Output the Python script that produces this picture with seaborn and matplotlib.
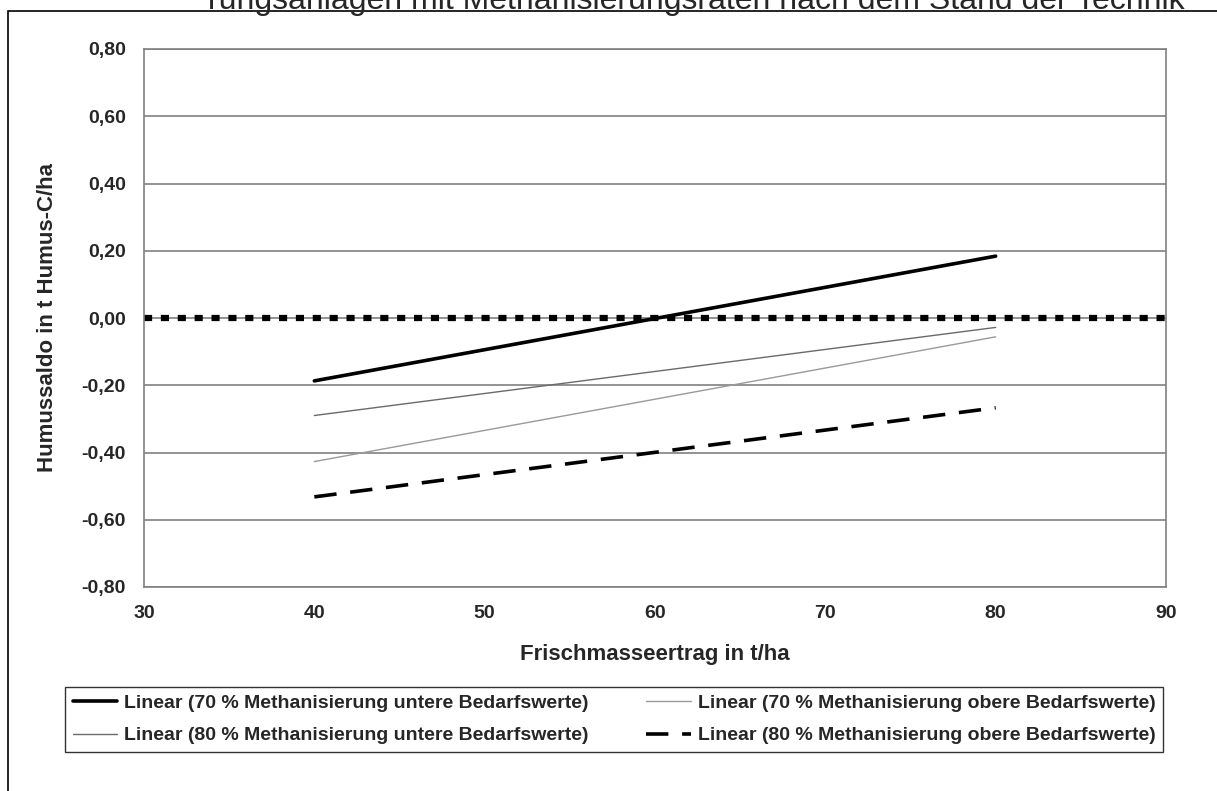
import matplotlib
matplotlib.use("Agg")
import matplotlib.pyplot as plt
import matplotlib.patches as patches
import pandas as pd
import seaborn as sns

# yields (t/ha) at the two ends of each trend line
ertrag = [40, 80]
m70_untere = [-0.187, 0.184]
m70_obere = [-0.427, -0.056]
m80_untere = [-0.290, -0.028]
m80_obere = [-0.532, -0.267]
null_x = [30, 90]
null_y = [0.0, 0.0]

labels = [
    "Linear (70 % Methanisierung untere Bedarfswerte)",
    "Linear (70 % Methanisierung obere Bedarfswerte)",
    "Linear (80 % Methanisierung untere Bedarfswerte)",
    "Linear (80 % Methanisierung obere Bedarfswerte)",
]
x_ticks = [30, 40, 50, 60, 70, 80, 90]
y_ticks = [-0.8, -0.6, -0.4, -0.2, 0.0, 0.2, 0.4, 0.6, 0.8]

sns.set_style("white")
plt.rcParams["font.family"] = ["Liberation Sans", "DejaVu Sans"]
plt.rcParams["font.weight"] = "bold"

fig = plt.figure(figsize=(12.17, 7.91), dpi=100)
ax = fig.add_axes([144 / 1217, 1 - 587 / 791, 1022 / 1217, 538 / 791])

for yv in y_ticks:
    ax.axhline(yv, color="#808080", lw=1.2, zorder=1)

sns.lineplot(x=null_x, y=null_y, ax=ax, color="black", lw=4.5, legend=False,
             zorder=2)
ax.lines[-1].set_dashes((1.3, 1.4))

styles = [
    dict(color="black", lw=2.6, ls="-"),
    dict(color="#9a9a9a", lw=1.0, ls="-"),
    dict(color="#6a6a6a", lw=1.0, ls="-"),
    dict(color="black", lw=2.6, ls=(0, (6.2, 3.8))),
]
series = [m70_untere, m70_obere, m80_untere, m80_obere]
handles = []
for vals, lab, st in zip(series, labels, styles):
    df = pd.DataFrame({"x": ertrag, "y": vals})
    sns.lineplot(data=df, x="x", y="y", ax=ax, color=st["color"], lw=st["lw"],
                 legend=False, zorder=3)
    line = ax.lines[-1]
    line.set_linestyle(st["ls"])
    handles.append(line)

if ax.get_legend() is not None:
    ax.get_legend().remove()

ax.set_xlim(30, 90)
ax.set_ylim(-0.8, 0.8)
ax.set_xticks(x_ticks)
ax.set_yticks(y_ticks)
ax.set_yticklabels([f"{v:.2f}".replace(".", ",") for v in y_ticks])
ax.tick_params(axis="both", direction="out", length=6, width=1, color="#606060",
               labelsize=14, pad=7)
for s in ax.spines.values():
    s.set_color("#808080")
    s.set_linewidth(1.2)

ax.set_xlabel("Frischmasseertrag in t/ha", fontsize=16, fontweight="bold", labelpad=16)
ax.set_ylabel("Humussaldo in t Humus-C/ha", fontsize=16, fontweight="bold")
ax.yaxis.set_label_coords((58 - 144) / 1022, 0.5)

# column-wise fill: row 1 = 70 %, row 2 = 80 %
order = [0, 2, 1, 3]
leg = fig.legend(handles=[handles[i] for i in order],
                 labels=[labels[i] for i in order], ncol=2, loc="center",
                 bbox_to_anchor=(55 / 1217, 40 / 791, 1118 / 1217, 63 / 791),
                 bbox_transform=fig.transFigure, mode="expand", fontsize=14,
                 frameon=True, fancybox=False, handlelength=2.3, handletextpad=0.35,
                 borderpad=0.4, labelspacing=0.75, columnspacing=1.0)
leg.get_frame().set_edgecolor("black")
leg.get_frame().set_linewidth(1.0)

fig.patches.append(patches.Rectangle((8 / 1217, -0.05), 1.2, 0.05 + 1 - 11 / 791,
                                     transform=fig.transFigure, fill=False,
                                     edgecolor="black", lw=1.2))

fig.text(696 / 1217, 1 - 9 / 791,
         "rungsanlagen mit Methanisierungsraten nach dem Stand der Technik",
         ha="center", va="baseline", fontsize=23, fontweight="normal")

fig.savefig("out.png", dpi=100)
